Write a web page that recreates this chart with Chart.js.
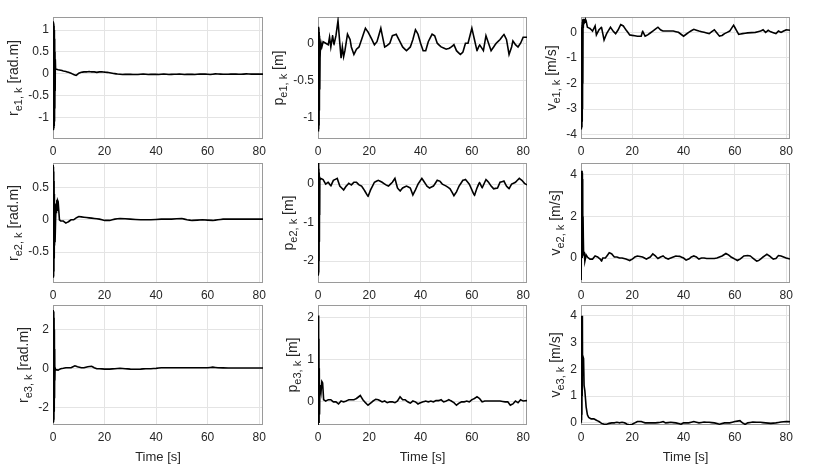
<!DOCTYPE html>
<html>
<head>
<meta charset="utf-8">
<script src="https://cdn.jsdelivr.net/npm/chart.js@4.4.1/dist/chart.umd.min.js"></script>
<style>
  body { margin: 0; background: #fff; width: 830px; height: 467px; position: relative; overflow: hidden; }
  canvas { position: absolute; }
</style>
</head>
<body>
<script>
// time axis ticks shared by every panel
const xTicks = [0, 20, 40, 60, 80];
const xMax = 81.5;

// [time s, value]
const r1 = [[0,0],[0.06,1.2],[0.12,-1.3],[0.18,1.18],[0.24,-1.28],[0.3,1.15],[0.36,-1.25],[0.42,1.1],[0.48,-1.2],[0.54,1],[0.6,-1.1],[0.66,0.8],[0.72,-0.8],[0.78,0.5],[0.84,-0.4],[0.9,0.33],[1,0.1],[1.3,0.1],[2,0.09],[3,0.08],[4,0.06],[5,0.05],[6,0.03],[7,0.01],[8,-0.02],[9,-0.04],[10,0.01],[11,0.03],[12,0.04],[13,0.04],[14,0.05],[15,0.04],[16,0.04],[17,0.03],[18,0.04],[19,0.04],[20,0.035],[21,0.03],[22,0.02],[23,0.01],[24,0],[25,-0.01],[27,-0.02],[29,-0.015],[31,-0.02],[33,-0.02],[35,-0.01],[37,-0.02],[39,-0.015],[41,-0.02],[43,-0.01],[45,-0.02],[47,-0.015],[49,-0.01],[51,-0.02],[53,-0.015],[55,-0.02],[57,-0.01],[59,-0.01],[61,-0.02],[63,-0.005],[65,-0.01],[67,-0.015],[69,-0.01],[71,-0.01],[73,-0.015],[75,-0.005],[77,-0.01],[79,-0.01],[81.5,-0.01]];
const p1 = [[0,0],[0.06,-1.15],[0.12,0.2],[0.18,-1.18],[0.24,0.22],[0.3,-1.15],[0.36,0.2],[0.42,-1.1],[0.48,0.15],[0.54,-0.9],[0.6,0.1],[0.7,-0.62],[0.8,-0.2],[0.9,-0.1],[1.2,0],[1.5,-0.05],[2,0.02],[3,0],[4,-0.02],[4.5,0.08],[5,-0.05],[5.7,0.1],[6.2,-0.02],[7,0.1],[7.8,0.3],[8.5,0],[9,-0.2],[9.5,-0.05],[10,-0.18],[10.5,-0.1],[11.5,0.12],[12.5,0.05],[13,-0.05],[14,-0.15],[15,-0.08],[16,-0.05],[17,0.05],[18.5,0.2],[19.5,0.15],[21,0.05],[22,-0.02],[23,0.02],[24.5,0.2],[25.5,0.03],[26,-0.05],[27,-0.03],[28,0],[29,0.1],[30.5,0.12],[31.5,0.05],[33,-0.05],[34.5,-0.1],[36,-0.05],[37,0.05],[38,0.18],[39,0.12],[40,0],[41,-0.1],[42,-0.1],[43,0.02],[44.5,0.12],[45.5,0.1],[46.5,0],[48,-0.05],[50,-0.08],[51,-0.07],[52,-0.05],[53,-0.02],[54,-0.1],[55.5,-0.15],[56.5,-0.12],[57.5,0],[58.5,0],[60,0.2],[61,0.05],[62,-0.1],[63,-0.02],[64.5,-0.1],[65.5,0.1],[66.5,0],[67.5,-0.1],[68.5,-0.05],[69.5,0],[71,0.05],[72.5,0.12],[73.5,0.05],[74.5,-0.15],[75.5,-0.05],[76,0.03],[77,-0.02],[78,-0.05],[79,0],[80,0.08],[81.5,0.08]];
const v1 = [[0,-2.9],[0.06,0.1],[0.12,-3.8],[0.18,0.1],[0.24,-3.75],[0.3,0.2],[0.36,-3.7],[0.42,0.3],[0.48,-3.5],[0.54,0.4],[0.6,-3],[0.66,0.5],[0.72,-2],[0.8,0.5],[0.9,0.2],[1,0.5],[1.2,0.35],[1.4,0.5],[1.6,0.4],[1.8,0.5],[2,0.45],[2.5,0.2],[3.5,0.15],[4.5,0.05],[5.5,0.25],[6,-0.1],[7,0.1],[8,0.2],[9,-0.3],[10,-0.05],[11.5,0.2],[12.5,0.05],[13.5,-0.05],[14.5,0.1],[15.5,0.3],[16.5,0.25],[17.5,0.1],[19,-0.1],[20,-0.12],[22,-0.15],[23.5,-0.15],[24,0.05],[25,-0.15],[26,-0.1],[28,0.05],[30,0.2],[31,0.1],[32,0.05],[34,0.05],[36,0.05],[38,0],[40,-0.15],[42,0],[44,0.12],[46,0.05],[48,0],[50,-0.05],[52,0.1],[54,-0.15],[55,-0.12],[56,-0.05],[58,0.05],[59.5,0.28],[60.5,0.1],[61.5,-0.08],[63,-0.05],[65,-0.02],[68,0],[70,0.05],[71,0.1],[72,0],[73,0.08],[74,0.02],[76,-0.05],[77,0.05],[78,0],[79,0.05],[80,0.1],[81.5,0.08]];
const r2 = [[0,-0.7],[0.06,0.85],[0.12,-0.9],[0.18,0.82],[0.24,-0.88],[0.3,0.75],[0.36,-0.8],[0.42,0.6],[0.48,-0.6],[0.54,0.4],[0.6,-0.4],[0.7,0.2],[0.8,-0.35],[1,0],[1.2,0.25],[1.35,0.1],[1.5,0.3],[1.65,0.15],[1.8,0.3],[2,0.28],[2.5,0],[3,-0.02],[4,-0.02],[5,-0.05],[6,-0.03],[7,0],[8,0],[9,0.03],[10,0.05],[12,0.04],[14,0.03],[16,0.02],[18,0.01],[20,-0.01],[22,-0.01],[24,0.01],[26,0.02],[30,0.01],[34,0],[38,0],[42,0.01],[46,0.01],[50,0.02],[52,0],[54,-0.01],[58,0],[62,-0.01],[64,0],[66,0.01],[70,0.01],[74,0.01],[78,0.01],[81.5,0.01]];
const p2 = [[0,0],[0.06,-2.38],[0.12,0.5],[0.18,-2.35],[0.24,0.55],[0.3,-2.3],[0.36,0.4],[0.42,-2],[0.48,0.3],[0.54,-1.5],[0.6,0.2],[0.66,-0.8],[0.72,0.1],[1,0.15],[2,0.12],[3,0],[4,0.05],[5,-0.05],[6,0.1],[7.5,0.15],[8.5,-0.05],[10,-0.15],[11,-0.05],[12,0.02],[13,-0.02],[14,0.05],[15,0.05],[16,-0.02],[17,-0.05],[18,-0.15],[19.5,-0.32],[20.5,-0.15],[22,0.05],[23.5,0.1],[25,0.05],[26.5,-0.02],[27.5,-0.05],[29,0.05],[30,0.15],[31,-0.1],[32,-0.18],[33,-0.1],[34.5,-0.05],[36,-0.1],[37,-0.28],[38,-0.15],[39,0],[40.5,0.15],[41.5,0.05],[42.5,-0.05],[43.5,-0.1],[45,-0.05],[46.5,0.1],[47.5,0.08],[48.5,0],[50,-0.05],[51.5,-0.12],[53,-0.3],[54,-0.2],[55,-0.05],[56.5,0.1],[57.5,0.12],[59,0],[60,-0.15],[61,-0.3],[62,-0.1],[63,0.05],[64,-0.1],[65.5,0.12],[66.5,0.05],[67.5,-0.05],[68.5,-0.12],[70,-0.1],[71,0.05],[72.5,0.08],[73.5,-0.05],[74.5,-0.12],[75.5,0],[77,0.05],[78.5,0.15],[79.5,0.1],[80.5,0.02],[81.5,-0.02]];
const v2 = [[0,1.35],[0.05,-1.05],[0.15,0.3],[0.25,0],[0.3,4.2],[0.36,0.1],[0.42,4.2],[0.48,0],[0.54,4.1],[0.6,0.2],[0.66,3.8],[0.72,0.3],[0.8,2],[0.9,1],[1,0.3],[1.2,0.1],[1.3,0.3],[1.5,-0.15],[2,0.15],[2.5,0.05],[3.5,-0.05],[4.5,-0.05],[5.5,0.1],[6.5,0.05],[7.5,-0.05],[8,-0.15],[8.5,0],[9.5,0],[11,0.25],[12,0.2],[13,0.05],[14,0.05],[15,0],[16,0],[17.5,-0.05],[19,-0.12],[20,-0.05],[21,0.05],[22,0.1],[24,0.05],[25.5,-0.05],[27,0.05],[28,0.2],[29,0.1],[30,-0.02],[31,0.05],[32,0.1],[33,0],[34,-0.05],[35,0],[36,0.05],[37,0.1],[38.5,0.08],[40,0],[41,-0.1],[42,-0.05],[43,0.05],[44,0.1],[45,0.05],[46,-0.05],[47,0],[48,0],[49,-0.02],[50,-0.02],[52,-0.02],[53,0],[54,0.05],[55,0.1],[56.5,0.22],[57.5,0.15],[58.5,0.05],[60,-0.05],[61,-0.12],[62,-0.05],[63.5,0.1],[65,0.12],[66,0.1],[67,0],[68.5,-0.15],[69.5,-0.1],[71,0.05],[72.5,0.18],[73.5,0.1],[75,-0.05],[76,-0.02],[77,0.12],[78,0.1],[79,0.05],[80,0],[81.5,-0.05]];
const r3 = [[0,0],[0.06,3],[0.12,-2.75],[0.18,2.95],[0.24,-2.7],[0.3,2.9],[0.36,-2.6],[0.42,2.6],[0.48,-2.2],[0.54,2],[0.6,-1.5],[0.66,1],[0.72,-0.6],[0.8,0.05],[1,-0.05],[2,-0.07],[3,0],[4,0.02],[5,0.05],[6,0.05],[7,0.05],[8.5,0.15],[9.5,0.1],[11,0.05],[12,0.05],[13.5,0.1],[15,0.12],[16,0.05],[17,0],[18,0],[20,-0.02],[22,-0.02],[24,0],[26,0.02],[28,0],[30,-0.02],[32,-0.03],[34,-0.02],[36,0],[38,0],[40,0.02],[42,0.05],[45,0.05],[50,0.05],[55,0.05],[60,0.05],[62,0.08],[64,0.05],[68,0.04],[72,0.04],[76,0.04],[81.5,0.04]];
const p3 = [[0,0],[0.06,-0.55],[0.12,1.8],[0.18,-0.5],[0.24,2.05],[0.3,-0.45],[0.36,1.5],[0.42,-0.5],[0.5,0.8],[0.6,-0.3],[0.7,0.2],[0.9,0.4],[1.2,0.25],[1.5,0.48],[1.8,0.45],[2.2,0.05],[3,0.02],[4,0.05],[5,0.05],[6,0],[7,0],[8,-0.05],[9,0.02],[10,0],[11,0.02],[12,0.05],[13,0.05],[14,0.05],[15,0.08],[16.5,0.15],[17.5,0.05],[18.5,-0.02],[19.5,-0.08],[20.5,-0.03],[21.5,0.02],[22.5,0.06],[23.5,0.05],[25,0],[26,0.02],[27,-0.02],[28,0],[29,0],[30,-0.02],[31,0.02],[32,0.12],[33,0.05],[34,0.05],[35,0],[36,-0.03],[37,0.02],[38,0],[39,-0.05],[40,-0.02],[41,0],[42,0.02],[43,0],[44,0.02],[45,0],[46,0.03],[47,0.03],[48,0.05],[49,0],[50,0.02],[51,0.05],[52,0.02],[53,-0.02],[54,-0.08],[55,-0.03],[56,0],[57,0],[58,0.02],[59,0],[60,0.05],[61,0.08],[62,0.12],[63,0.08],[64,0],[65,0.02],[67,0.02],[69,0.02],[71,0.02],[73,0],[74,0],[75,-0.08],[76,-0.05],[77,0.02],[78,-0.02],[79,0.05],[80,0.02],[81.5,0.03]];
const v3 = [[0,0],[0.06,1],[0.12,0],[0.18,4],[0.24,0.1],[0.3,4],[0.36,0.3],[0.42,4],[0.48,1],[0.54,4],[0.6,2],[0.7,2.5],[1,2.4],[1.2,1.4],[1.5,1.2],[2,0.6],[2.5,0.3],[3,0.2],[4,0.15],[5,0.15],[6,0.1],[7,0.05],[8,-0.02],[9,-0.05],[10,-0.05],[11,-0.02],[12,0],[13,0],[14,0.02],[15,0],[16,0.02],[17,0],[18,-0.05],[19,-0.08],[20,-0.05],[21,0],[22,0.05],[23.5,0.05],[25,0],[27,0],[29,0],[31,0.02],[32,0.05],[33,0],[35,0.02],[37,0],[39,-0.05],[40,0],[42,0],[44,0.05],[46,0],[48,0.03],[50,0.02],[52,0],[54,-0.05],[56,0],[58,0],[60,0.05],[62,0.08],[63,0],[64,-0.06],[65,0],[67,0.03],[70,0.02],[72,0],[74,-0.02],[76,0],[78,0.03],[80,0.05],[81.5,0.04]];

// y tick labels and limits per panel
const ticksR1 = [-1, -0.5, 0, 0.5, 1],  limR1 = [-1.5, 1.3];
const ticksP1 = [-1, -0.5, 0],          limP1 = [-1.28, 0.35];
const ticksV1 = [-4, -3, -2, -1, 0],    limV1 = [-4.17, 0.6];
const ticksR2 = [-0.5, 0, 0.5],         limR2 = [-0.98, 0.88];
const ticksP2 = [-2, -1, 0],            limP2 = [-2.57, 0.55];
const ticksV2 = [0, 2, 4],              limV2 = [-1.2, 4.57];
const ticksR3 = [-2, 0, 2],             limR3 = [-2.87, 3.25];
const ticksP3 = [0, 1, 2],              limP3 = [-0.55, 2.3];
const ticksV3 = [0, 1, 2, 3, 4],        limV3 = [-0.08, 4.4];

const panels = [
  { data: r1, ticks: ticksR1, lim: limR1, sym: 'r', sub: 'e1, k', unit: '[rad.m]' },
  { data: p1, ticks: ticksP1, lim: limP1, sym: 'p', sub: 'e1, k', unit: '[m]' },
  { data: v1, ticks: ticksV1, lim: limV1, sym: 'v', sub: 'e1, k', unit: '[m/s]' },
  { data: r2, ticks: ticksR2, lim: limR2, sym: 'r', sub: 'e2, k', unit: '[rad.m]' },
  { data: p2, ticks: ticksP2, lim: limP2, sym: 'p', sub: 'e2, k', unit: '[m]' },
  { data: v2, ticks: ticksV2, lim: limV2, sym: 'v', sub: 'e2, k', unit: '[m/s]' },
  { data: r3, ticks: ticksR3, lim: limR3, sym: 'r', sub: 'e3, k', unit: '[rad.m]' },
  { data: p3, ticks: ticksP3, lim: limP3, sym: 'p', sub: 'e3, k', unit: '[m]' },
  { data: v3, ticks: ticksV3, lim: limV3, sym: 'v', sub: 'e3, k', unit: '[m/s]' }
];

// subplot geometry (plot box edges in page pixels)
const colL = [53, 318, 581], colR = [263, 527, 790];
const rowT = [17, 163, 305], rowB = [139, 283, 425];
const PADL = 54, PADT = 5, PADR = 6;
const FONT = "'Liberation Sans', Arial, Helvetica, sans-serif";
const TXT = '#262626';
const TICK_SIZE = 12;

// box round the plot area, under the line
const boxPlugin = {
  id: 'box',
  beforeDatasetsDraw(chart) {
    const a = chart.chartArea, ctx = chart.ctx;
    ctx.save();
    ctx.strokeStyle = '#9a9a9a';
    ctx.lineWidth = 1;
    ctx.strokeRect(a.left + 0.5, a.top + 0.5, a.right - a.left - 1, a.bottom - a.top - 1);
    ctx.restore();
  }
};

// rotated y label with a subscript
const yLabelPlugin = {
  id: 'ylabel',
  afterDraw(chart, args, opts) {
    const a = chart.chartArea, ctx = chart.ctx, ys = chart.scales.y;
    ctx.save();
    ctx.font = TICK_SIZE + 'px ' + FONT;
    let maxW = 0;
    ys.ticks.forEach(t => { maxW = Math.max(maxW, ctx.measureText(String(t.value)).width); });
    const cx = a.left - 4 - maxW - 13;
    const cy = (a.top + a.bottom) / 2;
    const parts = [
      { t: opts.sym, f: 14, dy: 0 },
      { t: opts.sub, f: 11, dy: 4 },
      { t: ' ' + opts.unit, f: 14, dy: 0 }
    ];
    let total = 0;
    parts.forEach(p => { ctx.font = p.f + 'px ' + FONT; p.w = ctx.measureText(p.t).width; total += p.w; });
    ctx.translate(cx, cy);
    ctx.rotate(-Math.PI / 2);
    ctx.fillStyle = TXT;
    ctx.textBaseline = 'alphabetic';
    let x = -total / 2;
    parts.forEach(p => {
      ctx.font = p.f + 'px ' + FONT;
      ctx.fillText(p.t, x, 3 + p.dy);
      x += p.w;
    });
    ctx.restore();
  }
};

panels.forEach((p, i) => {
  const c = i % 3, r = Math.floor(i / 3);
  const L = colL[c], R = colR[c], T = rowT[r], B = rowB[r];
  const bottomH = r === 2 ? 40 : 22;
  const cv = document.createElement('canvas');
  cv.width = R - L + PADL + PADR;
  cv.height = B - T + PADT + bottomH;
  cv.style.left = (L - PADL) + 'px';
  cv.style.top = (T - PADT) + 'px';
  cv.style.width = cv.width + 'px';
  cv.style.height = cv.height + 'px';
  document.body.appendChild(cv);

  new Chart(cv, {
    type: 'line',
    data: {
      datasets: [{
        data: p.data.map(d => ({ x: d[0], y: d[1] })),
        borderColor: '#000',
        borderWidth: 1.6,
        pointRadius: 0,
        tension: 0.0001,   // keeps every segment of the dense spikes
        fill: false
      }]
    },
    options: {
      responsive: false,
      animation: false,
      devicePixelRatio: 1,
      layout: { padding: { top: PADT, right: PADR, left: 0, bottom: 0 } },
      plugins: {
        legend: { display: false },
        tooltip: { enabled: false },
        ylabel: { sym: p.sym, sub: p.sub, unit: p.unit }
      },
      scales: {
        x: {
          type: 'linear',
          min: 0,
          max: xMax,
          afterBuildTicks: s => { s.ticks = xTicks.map(v => ({ value: v })); },
          afterFit: s => { s.height = bottomH; s.paddingLeft = 0; s.paddingRight = 0; },
          ticks: { font: { family: FONT, size: TICK_SIZE }, color: TXT, padding: 5, maxRotation: 0, autoSkip: false, callback: v => String(v) },
          grid: { color: '#e4e4e4', drawTicks: false },
          border: { display: false },
          title: r === 2
            ? { display: true, text: 'Time [s]', font: { family: FONT, size: 13 }, color: TXT, padding: { top: 2, bottom: 0 } }
            : { display: false }
        },
        y: {
          min: p.lim[0],
          max: p.lim[1],
          afterBuildTicks: s => { s.ticks = p.ticks.map(v => ({ value: v })); },
          afterFit: s => { s.width = PADL; s.paddingTop = 0; s.paddingBottom = 0; },
          ticks: { font: { family: FONT, size: TICK_SIZE }, color: TXT, padding: 4, autoSkip: false, callback: v => String(v) },
          grid: { color: '#e4e4e4', drawTicks: false },
          border: { display: false }
        }
      }
    },
    plugins: [boxPlugin, yLabelPlugin]
  });
});
</script>
</body>
</html>
